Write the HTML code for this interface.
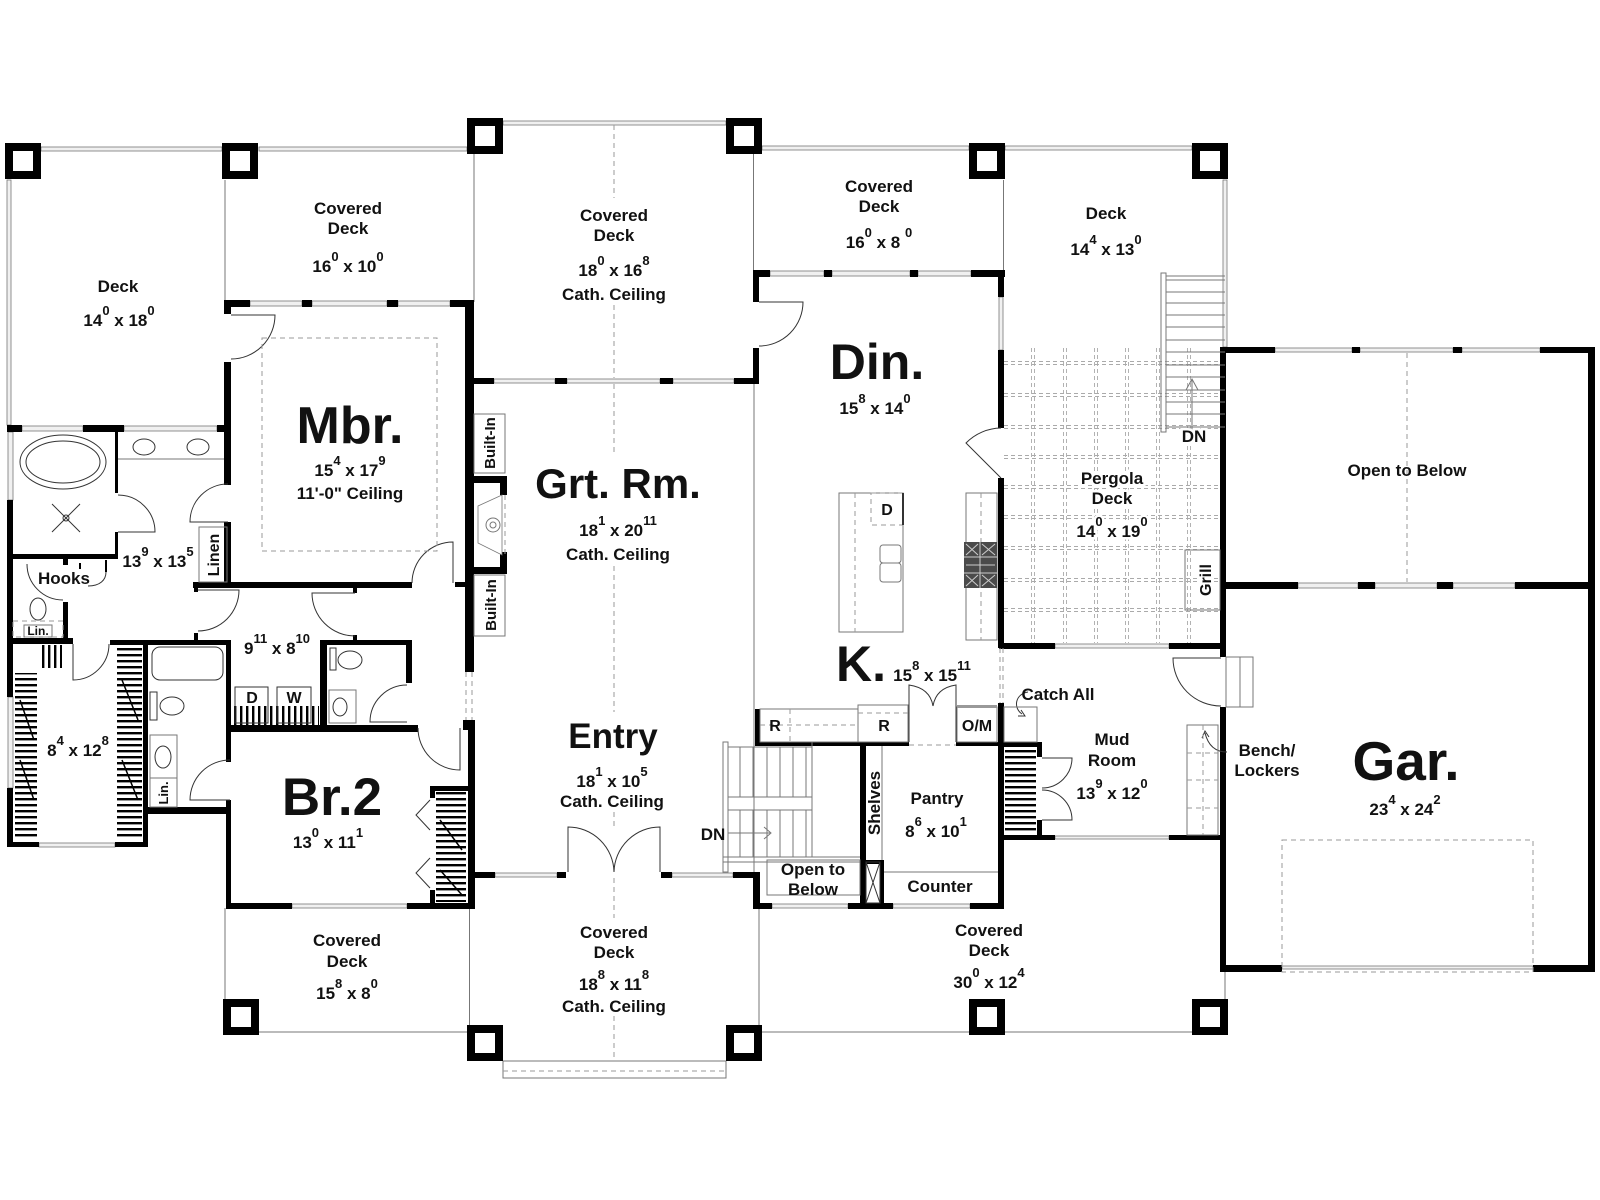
<!DOCTYPE html>
<html><head><meta charset="utf-8"><style>
html,body{margin:0;padding:0;background:#fff;width:1600px;height:1200px;overflow:hidden}
svg{display:block}
text{font-family:"Liberation Sans",Arial,sans-serif;font-weight:bold;fill:#111;text-anchor:middle}
.t{font-size:17px}
.s{font-size:13px}
.n{fill:#f0f0f0;stroke:#777;stroke-width:.8}
.l{stroke:#777;stroke-width:1;fill:none}
.d{stroke:#999;stroke-width:1;fill:none;stroke-dasharray:5 4}
.g{stroke:#aaa;stroke-width:.9;fill:none;stroke-dasharray:4 3}
.k{stroke:#333;stroke-width:1;fill:none}
.p{fill:#fff;stroke:#000;stroke-width:8}
.h{paint-order:stroke;stroke:#fff;stroke-width:5px}
</style></head><body>
<svg width="1600" height="1200" viewBox="0 0 1600 1200" xmlns="http://www.w3.org/2000/svg">
<defs>
<pattern id="hh" width="40" height="6" patternUnits="userSpaceOnUse"><rect width="40" height="2.4" fill="#000"/></pattern>
<pattern id="hv" width="6" height="40" patternUnits="userSpaceOnUse"><rect width="2.4" height="40" fill="#000"/></pattern>
</defs>
<rect width="1600" height="1200" fill="#fff"/>

<!-- pergola grid -->
<g class="g">
<path d="M1031.5,348V643M1034.5,348V643M1063.5,348V643M1066.5,348V643M1094.5,348V643M1097.5,348V643M1125.5,348V643M1128.5,348V643M1156.5,348V643M1159.5,348V643M1187.5,348V643M1190.5,348V643"/>
<path d="M1004,361.5H1220M1004,364.5H1220M1004,393.5H1220M1004,396.5H1220M1004,425.5H1220M1004,428.5H1220M1004,455.5H1220M1004,458.5H1220M1004,485.5H1220M1004,488.5H1220M1004,515.5H1220M1004,518.5H1220M1004,546.5H1220M1004,549.5H1220M1004,578.5H1220M1004,581.5H1220M1004,608.5H1220M1004,611.5H1220"/>
</g>

<!-- beams / deck edges -->
<rect class="n" x="41" y="147" width="181" height="4"/>
<rect class="n" x="259" y="147" width="208" height="4"/>
<rect class="n" x="503" y="121" width="223" height="4"/>
<rect class="n" x="762" y="146" width="207" height="4"/>
<rect class="n" x="1005" y="146" width="187" height="4"/>
<rect class="n" x="7" y="180" width="4" height="245"/>
<rect class="n" x="1223" y="180" width="4" height="167"/>
<path class="l" d="M225,180V300M474,154V302M753.5,154V270M1003.5,180V270M754,384V872M225,908V999M259,1032H467M469.5,878V1025M759,909V1025M762,1032H969M1005,1032H1192M1225,972V999"/>
<path class="d" d="M614,125V198M614,305V378M614,384V455M614,566V712M614,812V827M614,878V918M614,1016V1061"/>
<rect class="l" x="503" y="1061" width="223" height="17"/>
<path class="d" d="M503,1071H726"/>

<!-- posts -->
<rect class="p" x="9" y="147" width="28" height="28"/>
<rect class="p" x="226" y="147" width="28" height="28"/>
<rect class="p" x="471" y="122" width="28" height="28"/>
<rect class="p" x="730" y="122" width="28" height="28"/>
<rect class="p" x="973" y="147" width="28" height="28"/>
<rect class="p" x="1196" y="147" width="28" height="28"/>
<rect class="p" x="227" y="1003" width="28" height="28"/>
<rect class="p" x="471" y="1029" width="28" height="28"/>
<rect class="p" x="730" y="1029" width="28" height="28"/>
<rect class="p" x="973" y="1003" width="28" height="28"/>
<rect class="p" x="1196" y="1003" width="28" height="28"/>

<!-- windows -->
<g class="n">
<rect x="250" y="301" width="52" height="5"/><rect x="312" y="301" width="75" height="5"/><rect x="398" y="301" width="52" height="5"/>
<rect x="22" y="426" width="61" height="5"/><rect x="124" y="426" width="93" height="5"/>
<rect x="8" y="432" width="5" height="68"/><rect x="8" y="697" width="5" height="91"/>
<rect x="39" y="843" width="76" height="4"/>
<rect x="292" y="904" width="115" height="4"/>
<rect x="494" y="379" width="61" height="4"/><rect x="567" y="379" width="93" height="4"/><rect x="673" y="379" width="61" height="4"/>
<rect x="770" y="271" width="54" height="5"/><rect x="832" y="271" width="78" height="5"/><rect x="918" y="271" width="53" height="5"/>
<rect x="999" y="297" width="4" height="53"/>
<rect x="495" y="873" width="62" height="4"/><rect x="672" y="873" width="61" height="4"/>
<rect x="772" y="904" width="76" height="4"/><rect x="893" y="904" width="77" height="4"/>
<rect x="1055" y="644" width="114" height="4"/><rect x="1055" y="836" width="114" height="3"/>
<rect x="1275" y="348" width="77" height="4"/><rect x="1360" y="348" width="93" height="4"/><rect x="1462" y="348" width="78" height="4"/>
<rect x="1298" y="583" width="60" height="5"/><rect x="1375" y="583" width="62" height="5"/><rect x="1453" y="583" width="62" height="5"/>
<rect x="1282" y="966" width="251" height="3"/>
</g>

<!-- walls -->
<g fill="#000">
<rect x="224" y="300" width="26" height="7"/><rect x="302" y="300" width="10" height="7"/><rect x="387" y="300" width="11" height="7"/><rect x="450" y="300" width="24" height="7"/>
<rect x="224" y="300" width="7" height="14"/><rect x="224" y="362" width="7" height="123"/><rect x="224" y="522" width="7" height="66"/>
<rect x="7" y="425" width="15" height="7"/><rect x="83" y="425" width="41" height="7"/><rect x="217" y="425" width="14" height="7"/>
<rect x="7" y="500" width="6" height="197"/><rect x="7" y="788" width="6" height="59"/>
<rect x="115" y="432" width="3" height="61"/><rect x="115" y="532" width="3" height="27"/><rect x="13" y="554" width="105" height="5"/>
<rect x="63" y="558" width="5" height="7"/><rect x="63" y="602" width="5" height="38"/>
<rect x="79" y="563" width="2" height="6"/><rect x="105" y="560" width="2" height="12"/>
<rect x="7" y="638" width="66" height="6"/><rect x="110" y="640" width="38" height="5"/>
<rect x="143" y="640" width="5" height="207"/>
<rect x="7" y="842" width="32" height="5"/><rect x="115" y="842" width="33" height="5"/>
<rect x="193" y="582" width="219" height="6"/>
<rect x="194" y="588" width="4" height="4"/><rect x="194" y="633" width="4" height="7"/>
<rect x="353" y="588" width="4" height="5"/><rect x="353" y="635" width="4" height="5"/>
<rect x="143" y="640" width="88" height="5"/><rect x="320" y="640" width="92" height="5"/>
<rect x="226" y="640" width="5" height="122"/><rect x="226" y="800" width="5" height="109"/>
<rect x="143" y="807" width="88" height="7"/>
<rect x="226" y="725" width="192" height="7"/>
<rect x="320" y="640" width="7" height="85"/><rect x="406" y="640" width="6" height="43"/>
<rect x="455" y="582" width="10" height="5"/>
<rect x="430" y="786" width="44" height="5"/><rect x="430" y="786" width="5" height="12"/><rect x="430" y="890" width="5" height="13"/>
<rect x="226" y="903" width="66" height="6"/><rect x="407" y="903" width="68" height="6"/>
<rect x="468" y="720" width="7" height="189"/>
<rect x="465" y="302" width="9" height="370"/><rect x="463" y="720" width="11" height="10"/>
<!-- fireplace frame -->
<rect x="473" y="476" width="34" height="7"/><rect x="500" y="483" width="7" height="12"/>
<rect x="500" y="552" width="7" height="15"/><rect x="473" y="567" width="34" height="7"/>
<rect x="473" y="378" width="21" height="6"/><rect x="555" y="378" width="12" height="6"/><rect x="660" y="378" width="13" height="6"/><rect x="734" y="378" width="25" height="6"/>
<rect x="753" y="270" width="6" height="32"/><rect x="753" y="348" width="6" height="36"/>
<rect x="753" y="270" width="17" height="7"/><rect x="824" y="270" width="8" height="7"/><rect x="910" y="270" width="8" height="7"/><rect x="971" y="270" width="34" height="7"/>
<rect x="998" y="270" width="6" height="27"/><rect x="998" y="350" width="6" height="78"/><rect x="998" y="478" width="6" height="170"/>
<rect x="755" y="709" width="5" height="37"/><rect x="755" y="742" width="154" height="4"/>
<rect x="956" y="742" width="48" height="4"/>
<rect x="998" y="703" width="6" height="205"/>
<rect x="860" y="746" width="6" height="162"/><rect x="860" y="860" width="24" height="4"/><rect x="880" y="860" width="4" height="48"/>
<rect x="753" y="903" width="19" height="6"/><rect x="848" y="903" width="45" height="6"/><rect x="970" y="903" width="34" height="6"/>
<rect x="753" y="872" width="7" height="37"/>
<rect x="474" y="872" width="21" height="6"/><rect x="557" y="872" width="9" height="6"/><rect x="661" y="872" width="11" height="6"/><rect x="733" y="872" width="27" height="6"/>
<rect x="999" y="643" width="56" height="6"/><rect x="1169" y="643" width="57" height="6"/>
<rect x="999" y="742" width="43" height="5"/><rect x="1037" y="742" width="5" height="15"/><rect x="1037" y="820" width="5" height="20"/>
<rect x="999" y="835" width="56" height="5"/><rect x="1169" y="835" width="57" height="5"/>
<rect x="1220" y="347" width="55" height="6"/><rect x="1352" y="347" width="8" height="6"/><rect x="1453" y="347" width="9" height="6"/><rect x="1540" y="347" width="55" height="6"/>
<rect x="1220" y="347" width="6" height="310"/><rect x="1220" y="707" width="6" height="265"/>
<rect x="1226" y="582" width="72" height="7"/><rect x="1358" y="582" width="17" height="7"/><rect x="1437" y="582" width="16" height="7"/><rect x="1515" y="582" width="80" height="7"/>
<rect x="1588" y="347" width="7" height="625"/>
<rect x="1220" y="965" width="62" height="7"/><rect x="1533" y="965" width="62" height="7"/>
</g>

<!-- hatches -->
<rect x="15" y="673" width="22" height="167" fill="url(#hh)"/>
<rect x="117" y="647" width="25" height="193" fill="url(#hh)"/>
<rect x="40" y="645" width="22" height="23" fill="url(#hv)"/>
<rect x="436" y="792" width="30" height="110" fill="url(#hh)"/>
<rect x="232" y="706" width="87" height="19" fill="url(#hv)"/>
<rect x="1005" y="748" width="31" height="86" fill="url(#hh)"/>
<path d="M20,700L34,740M20,760L34,800M122,680L138,720M122,760L138,800M440,820L462,850M440,870L462,895" stroke="#000" stroke-width="1.5"/>

<!-- doors & fixtures -->
<g class="k">
<path d="M231,315H275A44,44 0 0 1 231,359"/>
<path d="M118,532H155A37,37 0 0 0 118,495"/>
<path d="M228,522H190A38,38 0 0 1 228,484"/>
<path d="M27,564A36,36 0 0 0 63,600"/>
<path d="M88,586C100,586 106,580 106,572"/>
<path d="M73,644V680A36,36 0 0 0 109,644"/>
<path d="M198,590H239A41,41 0 0 1 198,631"/>
<path d="M355,593H312A43,43 0 0 0 355,636"/>
<path d="M230,800H190A40,40 0 0 1 230,760"/>
<path d="M407,722H370A37,37 0 0 1 407,685"/>
<path d="M453,583V542A41,41 0 0 0 412,583"/>
<path d="M460,728V770A42,42 0 0 1 418,728"/>
<path d="M430,800L416,815L430,830M430,858L416,873L430,888"/>
<path d="M759,302H803A44,44 0 0 1 759,346"/>
<path d="M1001,478L966,443A50,50 0 0 1 1001,428"/>
<path d="M568,872V827A46,46 0 0 1 614,872M660,872V827A46,46 0 0 0 614,872"/>
<path d="M909,742V685Q930,688 933,706M956,742V685Q936,688 933,706"/>
<path d="M1042,758H1072A30,30 0 0 1 1042,788M1042,820H1072A30,30 0 0 0 1042,790"/>
<path d="M1221,658H1173A48,48 0 0 0 1221,706"/>
<ellipse cx="63" cy="462" rx="43" ry="27"/><ellipse cx="63" cy="462" rx="37" ry="21"/>
<path d="M52,504L80,532M80,504L52,532"/><circle cx="66" cy="518" r="3"/>
<ellipse cx="144" cy="447" rx="11" ry="8"/><ellipse cx="198" cy="447" rx="11" ry="8"/>
<ellipse cx="38" cy="609" rx="8" ry="11"/>
<rect x="152" y="647" width="71" height="33" rx="8"/>
<rect x="150" y="692" width="7" height="28"/><ellipse cx="172" cy="706" rx="12" ry="9"/>
<ellipse cx="163" cy="757" rx="8" ry="11"/>
<rect x="235" y="687" width="33" height="36"/><rect x="277" y="687" width="34" height="36"/>
<rect x="330" y="648" width="6" height="22"/><ellipse cx="350" cy="660" rx="12" ry="9"/>
<ellipse cx="340" cy="707" rx="7" ry="9"/>
<rect x="866" y="862" width="14" height="41"/><path d="M866,862L880,903M880,862L866,903"/>
<path d="M1028,692C1015,694 1013,708 1022,714M1018,716L1025,716L1021,710"/>
<path d="M1227,752C1215,752 1208,745 1205,733M1202,738L1205,731L1209,737"/>
</g>
<g class="l">
<path d="M118,459H224"/>
<rect x="199" y="527" width="28" height="55"/>
<rect x="24" y="625" width="28" height="12"/>
<rect x="150" y="735" width="27" height="43"/><rect x="150" y="778" width="27" height="29"/>
<rect x="329" y="690" width="27" height="33"/>
<rect x="474" y="414" width="31" height="59"/><rect x="474" y="575" width="31" height="61"/>
<rect x="966" y="493" width="31" height="147"/>
<rect x="839" y="493" width="64" height="139"/>
<rect x="880" y="545" width="21" height="18" rx="3"/><rect x="880" y="563" width="21" height="19" rx="3"/>
<rect x="760" y="709" width="98" height="33"/><rect x="858" y="705" width="50" height="37"/>
<rect x="957" y="707" width="40" height="35"/>
<rect x="723" y="742" width="5" height="130"/>
<path d="M728,747H812M812,742V857M740,747V797M753,747V797M767,747V797M780,747V797M793,747V797M806,747V797M740,810V857M753,810V857M767,810V857M780,810V857M793,810V857M806,810V857M723,857H860M723,862H860M728,833H770M764,827L771,833L764,839"/>
<rect x="728" y="797" width="84" height="13"/>
<rect x="767" y="860" width="93" height="35"/>
<path d="M882,746V860M884,872H998"/>
<rect x="1004" y="707" width="33" height="35"/>
<rect x="1226" y="657" width="27" height="50"/><path d="M1240,657V707"/>
<rect x="1187" y="725" width="31" height="110"/>
<rect x="1161" y="273" width="5" height="159"/>
<path d="M1166,276H1225M1166,280H1225M1166,292H1225M1166,303H1225M1166,315H1225M1166,327H1225M1166,340H1225M1166,352H1225M1166,365H1225M1166,377H1225M1166,390H1225M1166,402H1225M1166,414H1225M1166,427H1225M1192,433V380M1186,390L1192,379L1198,390"/>
<rect x="1185" y="550" width="35" height="60"/>
</g>
<g class="d">
<rect x="262" y="338" width="175" height="213"/>
<rect x="13" y="621" width="50" height="16"/>
<path d="M466,672V720M472,672V720"/>
<path d="M505,495V555"/>
<path d="M981,493V640M855,493V632"/>
<rect x="871" y="493" width="32" height="32"/>
<path d="M760,725H858M790,709V742M858,713H908M909,745H956M1000,648V703M1003,648V703"/>
<path d="M1203,725V835M1187,753H1218M1187,780H1218M1187,808H1218"/>
<rect x="1282" y="840" width="251" height="132"/>
<path d="M1407,353V582"/>
</g>
<!-- fireplace interior -->
<polygon points="478,506 502,495 502,555 478,543" fill="#fff" stroke="#777" stroke-width=".8"/>
<circle cx="493" cy="525" r="7" fill="none" stroke="#777"/><circle cx="493" cy="525" r="3" fill="none" stroke="#777"/>
<!-- range -->
<rect x="964" y="542" width="33" height="46" fill="#4a4a4a"/>
<path d="M964,557H997M964,573H997M980,542V588M966,544L978,555M978,544L966,555M982,544L995,555M995,544L982,555M966,575L978,586M978,575L966,586M982,575L995,586M995,575L982,586M966,565H995" stroke="#ccc" stroke-width="1"/>
<rect x="957" y="705" width="40" height="3" fill="#999"/>
<path d="M903,493V525" stroke="#333" stroke-width="2"/>

<!-- texts -->
<text class="t" x="118" y="292">Deck</text>
<text class="t" x="119" y="326">14<tspan class="s" dy="-11">0</tspan><tspan dy="11"> x 18</tspan><tspan class="s" dy="-11">0</tspan></text>
<text class="t" x="348" y="214">Covered</text><text class="t" x="348" y="234">Deck</text>
<text class="t" x="348" y="272">16<tspan class="s" dy="-11">0</tspan><tspan dy="11"> x 10</tspan><tspan class="s" dy="-11">0</tspan></text>
<text class="t" x="614" y="221">Covered</text><text class="t" x="614" y="241">Deck</text>
<text class="t" x="614" y="276">18<tspan class="s" dy="-11">0</tspan><tspan dy="11"> x 16</tspan><tspan class="s" dy="-11">8</tspan></text>
<text class="t" x="614" y="300">Cath. Ceiling</text>
<text class="t" x="879" y="192">Covered</text><text class="t" x="879" y="212">Deck</text>
<text class="t" x="879" y="248">16<tspan class="s" dy="-11">0</tspan><tspan dy="11"> x 8 </tspan><tspan class="s" dy="-11">0</tspan></text>
<text class="t" x="1106" y="219">Deck</text>
<text class="t" x="1106" y="255">14<tspan class="s" dy="-11">4</tspan><tspan dy="11"> x 13</tspan><tspan class="s" dy="-11">0</tspan></text>

<text x="350" y="443" style="font-size:52px">Mbr.</text>
<text class="t" x="350" y="476">15<tspan class="s" dy="-11">4</tspan><tspan dy="11"> x 17</tspan><tspan class="s" dy="-11">9</tspan></text>
<text class="t" x="350" y="499">11'-0" Ceiling</text>

<text x="618" y="498" style="font-size:42px">Grt. Rm.</text>
<text class="t" x="618" y="536">18<tspan class="s" dy="-11">1</tspan><tspan dy="11"> x 20</tspan><tspan class="s" dy="-11">11</tspan></text>
<text class="t" x="618" y="560">Cath. Ceiling</text>

<text x="877" y="379" style="font-size:50px">Din.</text>
<text class="t" x="875" y="414">15<tspan class="s" dy="-11">8</tspan><tspan dy="11"> x 14</tspan><tspan class="s" dy="-11">0</tspan></text>

<text class="t h" x="1112" y="484">Pergola</text><text class="t h" x="1112" y="504">Deck</text>
<text class="t h" x="1112" y="537">14<tspan class="s" dy="-11">0</tspan><tspan dy="11"> x 19</tspan><tspan class="s" dy="-11">0</tspan></text>
<text class="t h" x="1194" y="442">DN</text>
<text class="t h" transform="translate(1205,580) rotate(-90)" y="6" style="font-size:16px">Grill</text>
<text class="t" x="1407" y="476">Open to Below</text>

<text class="t" x="158" y="567">13<tspan class="s" dy="-11">9</tspan><tspan dy="11"> x 13</tspan><tspan class="s" dy="-11">5</tspan></text>
<text class="t" transform="translate(213,555) rotate(-90)" y="6" style="font-size:16px">Linen</text>
<text class="t" x="64" y="584">Hooks</text>
<text x="38" y="635" style="font-size:12px">Lin.</text>
<text class="t" x="277" y="654">9<tspan class="s" dy="-11">11</tspan><tspan dy="11"> x 8</tspan><tspan class="s" dy="-11">10</tspan></text>
<text x="252" y="703" style="font-size:16px">D</text><text x="294" y="703" style="font-size:16px">W</text>
<text class="t" x="78" y="756">8<tspan class="s" dy="-11">4</tspan><tspan dy="11"> x 12</tspan><tspan class="s" dy="-11">8</tspan></text>
<text transform="translate(163,793) rotate(-90)" y="5" style="font-size:13px">Lin.</text>
<text x="332" y="815" style="font-size:53px">Br.2</text>
<text class="t" x="328" y="848">13<tspan class="s" dy="-11">0</tspan><tspan dy="11"> x 11</tspan><tspan class="s" dy="-11">1</tspan></text>
<text transform="translate(490,443) rotate(-90)" y="5" style="font-size:15px">Built-In</text>
<text transform="translate(491,605) rotate(-90)" y="5" style="font-size:15px">Built-In</text>

<text x="613" y="748" style="font-size:35px">Entry</text>
<text class="t" x="612" y="787">18<tspan class="s" dy="-11">1</tspan><tspan dy="11"> x 10</tspan><tspan class="s" dy="-11">5</tspan></text>
<text class="t" x="612" y="807">Cath. Ceiling</text>
<text class="t" x="713" y="840">DN</text>
<text class="t" x="813" y="875">Open to</text><text class="t" x="813" y="895">Below</text>

<text x="861" y="681" style="font-size:50px">K.</text>
<text class="t" x="932" y="681">15<tspan class="s" dy="-11">8</tspan><tspan dy="11"> x 15</tspan><tspan class="s" dy="-11">11</tspan></text>
<text x="887" y="515" style="font-size:16px">D</text>
<text x="775" y="731" style="font-size:16px">R</text><text x="884" y="731" style="font-size:16px">R</text><text x="977" y="731" style="font-size:16px">O/M</text>
<text class="t" transform="translate(874,803) rotate(-90)" y="6">Shelves</text>
<text class="t" x="937" y="804">Pantry</text>
<text class="t" x="936" y="837">8<tspan class="s" dy="-11">6</tspan><tspan dy="11"> x 10</tspan><tspan class="s" dy="-11">1</tspan></text>
<text class="t" x="940" y="892">Counter</text>

<text class="t" x="1058" y="700">Catch All</text>
<text class="t" x="1112" y="745">Mud</text><text class="t" x="1112" y="766">Room</text>
<text class="t" x="1112" y="799">13<tspan class="s" dy="-11">9</tspan><tspan dy="11"> x 12</tspan><tspan class="s" dy="-11">0</tspan></text>
<text class="t" x="1267" y="756">Bench/</text><text class="t" x="1267" y="776">Lockers</text>
<text x="1406" y="780" style="font-size:55px">Gar.</text>
<text class="t" x="1405" y="815">23<tspan class="s" dy="-11">4</tspan><tspan dy="11"> x 24</tspan><tspan class="s" dy="-11">2</tspan></text>

<text class="t" x="347" y="946">Covered</text><text class="t" x="347" y="967">Deck</text>
<text class="t" x="347" y="999">15<tspan class="s" dy="-11">8</tspan><tspan dy="11"> x 8</tspan><tspan class="s" dy="-11">0</tspan></text>
<text class="t" x="614" y="938">Covered</text><text class="t" x="614" y="958">Deck</text>
<text class="t" x="614" y="990">18<tspan class="s" dy="-11">8</tspan><tspan dy="11"> x 11</tspan><tspan class="s" dy="-11">8</tspan></text>
<text class="t" x="614" y="1012">Cath. Ceiling</text>
<text class="t" x="989" y="936">Covered</text><text class="t" x="989" y="956">Deck</text>
<text class="t" x="989" y="988">30<tspan class="s" dy="-11">0</tspan><tspan dy="11"> x 12</tspan><tspan class="s" dy="-11">4</tspan></text>
</svg>
</body></html>
